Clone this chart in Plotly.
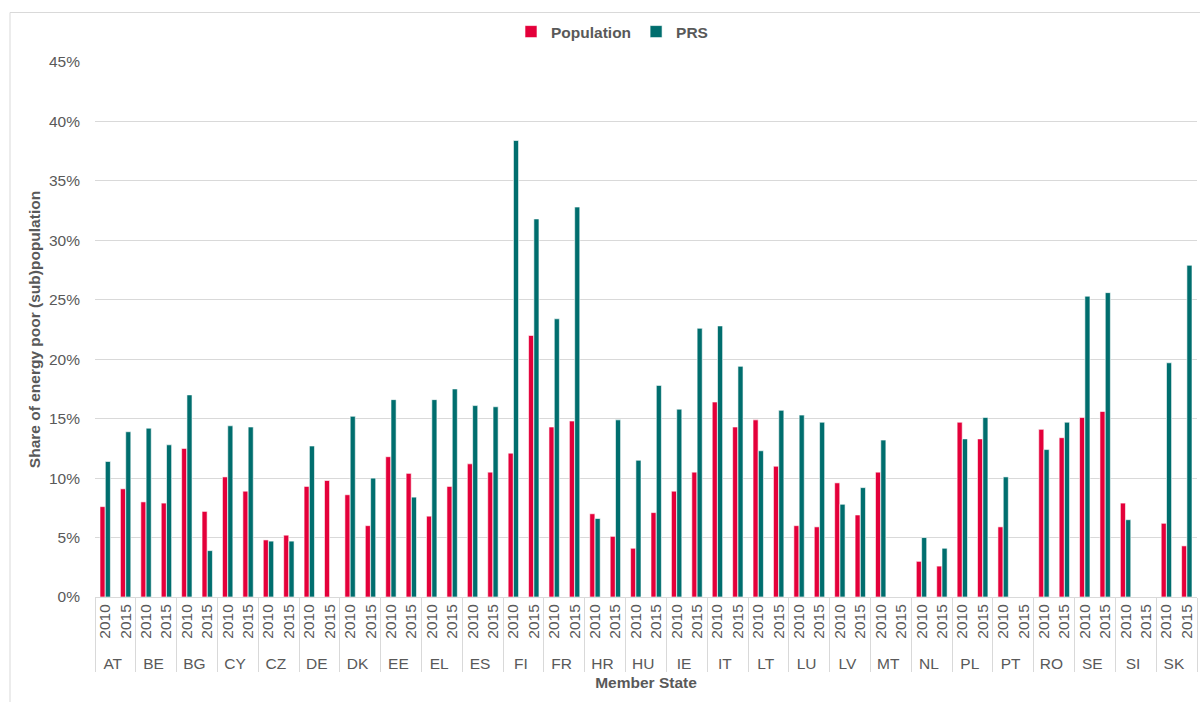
import plotly.graph_objects as go

# Member states and survey years
countries = ["AT", "BE", "BG", "CY", "CZ", "DE", "DK", "EE", "EL", "ES", "FI", "FR", "HR",
             "HU", "IE", "IT", "LT", "LU", "LV", "MT", "NL", "PL", "PT", "RO", "SE", "SI", "SK"]
years = ["2010", "2015"]

# Share of energy poor (%) - whole population, per country: [2010, 2015]
population = [
    7.6, 9.1,    # AT
    8.0, 7.9,    # BE
    12.5, 7.2,   # BG
    10.1, 8.9,   # CY
    4.8, 5.2,    # CZ
    9.3, 9.8,    # DE
    8.6, 6.0,    # DK
    11.8, 10.4,  # EE
    6.8, 9.3,    # EL
    11.2, 10.5,  # ES
    12.1, 22.0,  # FI
    14.3, 14.8,  # FR
    7.0, 5.1,    # HR
    4.1, 7.1,    # HU
    8.9, 10.5,   # IE
    16.4, 14.3,  # IT
    14.9, 11.0,  # LT
    6.0, 5.9,    # LU
    9.6, 6.9,    # LV
    10.5, None,  # MT
    3.0, 2.6,    # NL
    14.7, 13.3,  # PL
    5.9, None,   # PT
    14.1, 13.4,  # RO
    15.1, 15.6,  # SE
    7.9, None,   # SI
    6.2, 4.3,    # SK
]

# Share of energy poor (%) - private rented sector, per country: [2010, 2015]
prs = [
    11.4, 13.9,  # AT
    14.2, 12.8,  # BE
    17.0, 3.9,   # BG
    14.4, 14.3,  # CY
    4.7, 4.7,    # CZ
    12.7, None,  # DE
    15.2, 10.0,  # DK
    16.6, 8.4,   # EE
    16.6, 17.5,  # EL
    16.1, 16.0,  # ES
    38.4, 31.8,  # FI
    23.4, 32.8,  # FR
    6.6, 14.9,   # HR
    11.5, 17.8,  # HU
    15.8, 22.6,  # IE
    22.8, 19.4,  # IT
    12.3, 15.7,  # LT
    15.3, 14.7,  # LU
    7.8, 9.2,    # LV
    13.2, None,  # MT
    5.0, 4.1,    # NL
    13.3, 15.1,  # PL
    10.1, None,  # PT
    12.4, 14.7,  # RO
    25.3, 25.6,  # SE
    6.5, None,   # SI
    19.7, 27.9,  # SK
]

y_ticks = [0, 5, 10, 15, 20, 25, 30, 35, 40, 45]
y_tick_labels = [f"{v}%" for v in y_ticks]

x_outer = [c for c in countries for _ in years]
x_inner = [y for _ in countries for y in years]

FONT = "Liberation Sans, Arial, sans-serif"
GREY = "#595959"
GRID = "#D9D9D9"

fig = go.Figure()
fig.add_trace(go.Bar(
    name="Population", x=[x_outer, x_inner], y=population,
    marker=dict(color="#E4003A", line=dict(color="white", width=0.6)),
))
fig.add_trace(go.Bar(
    name="PRS", x=[x_outer, x_inner], y=prs,
    marker=dict(color="#006E6E", line=dict(color="white", width=0.6)),
))

# Outer frame around the whole chart
fig.add_shape(type="rect", xref="paper", yref="paper",
              x0=(10 - 95) / 1102, x1=1.2, y0=-0.5, y1=(597 - 12.5) / 535,
              line=dict(color=GRID, width=1), fillcolor="rgba(0,0,0,0)", layer="below")

fig.update_layout(
    width=1200, height=702,
    margin=dict(l=95, r=3, t=62, b=105),
    paper_bgcolor="white", plot_bgcolor="white",
    barmode="group", bargap=0.48, bargroupgap=0.04,
    font=dict(family=FONT, color=GREY, size=15.5),
    legend=dict(orientation="h", x=(612 - 95) / 1102, xanchor="center",
                y=1 + (62 - 32) / 535, yanchor="middle",
                font=dict(size=15.5, color=GREY, family=FONT, weight="bold"),
                itemwidth=30, traceorder="normal"),
    xaxis=dict(
        type="multicategory", tickangle=-90,
        showline=True, linecolor=GRID, linewidth=1,
        showdividers=True, dividercolor=GRID, dividerwidth=1,
        ticks="", tickfont=dict(size=15.5, color=GREY),
        title=dict(text="<b>Member State</b>", font=dict(size=15.5, color=GREY), standoff=6),
    ),
    yaxis=dict(
        range=[0, 45], tickvals=y_ticks, ticktext=y_tick_labels,
        showgrid=True, gridcolor=GRID, gridwidth=1, zeroline=False,
        showline=False, ticks="", ticklabelstandoff=14,
        tickfont=dict(size=15.5, color=GREY),
        title=dict(text="<b>Share of energy poor (sub)population</b>",
                   font=dict(size=15.5, color=GREY), standoff=4),
    ),
)

fig.write_html("out.html")
